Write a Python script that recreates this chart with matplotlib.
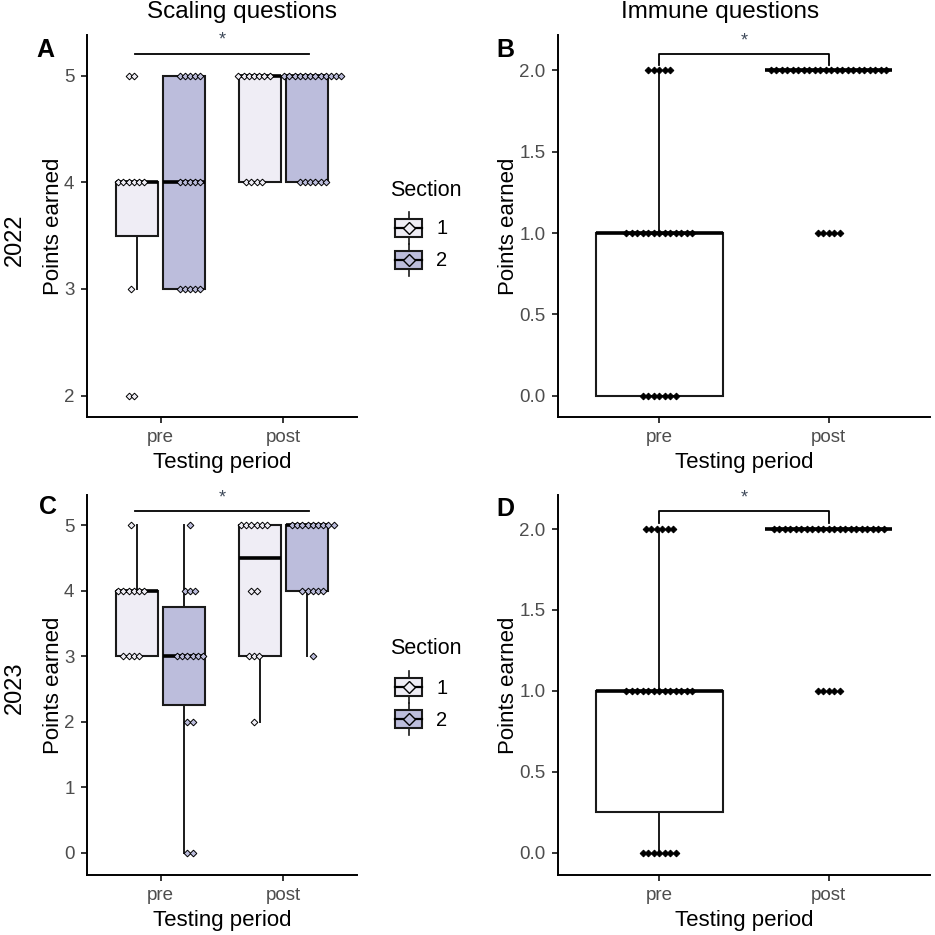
"""Scaling / immune question scores, 2022 vs 2023, boxes with dot strips"""
import numpy as np
import matplotlib
matplotlib.use("Agg")
import matplotlib.pyplot as plt
from matplotlib.patches import Rectangle

plt.rcParams['font.family'] = ['Liberation Sans', 'DejaVu Sans']

PERIODS = ["pre", "post"]
SECTIONS = ["1", "2"]
SECTION_FILL = ["#EFEDF5", "#BCBDDC"]

# score -> number of students
A_PRE_S1 = {2: 2, 3: 1, 4: 6, 5: 2}
A_PRE_S2 = {3: 5, 4: 5, 5: 5}
A_POST_S1 = {4: 4, 5: 7}
A_POST_S2 = {4: 6, 5: 12}
B_PRE = {0: 7, 1: 13, 2: 5}
B_POST = {1: 5, 2: 22}
C_PRE_S1 = {3: 4, 4: 6, 5: 1}
C_PRE_S2 = {0: 2, 2: 2, 3: 6, 4: 3, 5: 1}
C_POST_S1 = {2: 1, 3: 3, 4: 2, 5: 6}
C_POST_S2 = {3: 1, 4: 5, 5: 9}
D_PRE = {0: 7, 1: 13, 2: 6}
D_POST = {1: 5, 2: 21}

FIG_PX = 935
TICK_GRAY = "#4D4D4D"


def expand(counts):
    vals = []
    for score, n in counts.items():
        vals += [score] * n
    return np.array(vals, dtype=float)


def px_axes(left, top, right, bottom):
    return [left / FIG_PX, 1 - bottom / FIG_PX, (right - left) / FIG_PX, (bottom - top) / FIG_PX]


def style_axes(ax, ylim, yticks, ylabels):
    ax.set_xlim(0.4, 2.6)
    ax.set_ylim(*ylim)
    ax.set_xticks([1, 2])
    ax.set_xticklabels(PERIODS)
    ax.set_yticks(yticks)
    ax.set_yticklabels(ylabels)
    for side in ["top", "right"]:
        ax.spines[side].set_visible(False)
    for side in ["left", "bottom"]:
        ax.spines[side].set_linewidth(1.4)
    ax.tick_params(axis="both", length=4, width=1.1, colors="black",
                   labelcolor=TICK_GRAY, labelsize=13.5, pad=5)
    ax.set_xlabel("Testing period", fontsize=16, labelpad=4)
    ax.set_ylabel("Points earned", fontsize=16, labelpad=0)


def draw_box(ax, vals, x, width, fill):
    bp = ax.boxplot([vals], positions=[x], widths=width, whis=1.5,
                    patch_artist=True, showfliers=False, showcaps=False,
                    medianprops=dict(color="black", linewidth=2.6),
                    whiskerprops=dict(color="#1A1A1A", linewidth=1.4),
                    boxprops=dict(edgecolor="#1A1A1A", linewidth=1.5))
    bp["boxes"][0].set_facecolor(fill)


def draw_dots(ax, counts, x, step, fill, size):
    for score, n in counts.items():
        offs = (np.arange(n) - (n - 1) / 2) * step
        ax.plot(x + offs, np.full(n, score), linestyle="none", marker="D",
                markersize=size, markerfacecolor=fill, markeredgecolor="black",
                markeredgewidth=0.7, zorder=5)


def unit_step(ax_px_width, px):
    return px * 2.2 / ax_px_width


def scaling_panel(ax, ax_w, groups, bar_y, star_y):
    step = unit_step(ax_w, 5.2)
    for i, period in enumerate(PERIODS):
        for j, sec in enumerate(SECTIONS):
            counts = groups[(period, sec)]
            xb = i + 1 + (-0.19 if j == 0 else 0.19)
            xd = i + 1 + (-0.24 if j == 0 else 0.24)
            draw_box(ax, expand(counts), xb, 0.34, SECTION_FILL[j])
            draw_dots(ax, counts, xd, step, SECTION_FILL[j], 3.4)
    ax.plot([0.79, 2.21], [bar_y, bar_y], color="black", linewidth=1.3)
    ax.text(1.5, star_y, "*", ha="center", va="center", fontsize=13, color="#3F4A5A")


def immune_panel(ax, ax_w, pre, post, bar_y, tip_y, star_y):
    step = unit_step(ax_w, 5.5)
    for i, counts in enumerate([pre, post]):
        draw_box(ax, expand(counts), i + 1, 0.75, "white")
        draw_dots(ax, counts, i + 1, step, "black", 3.4)
    ax.plot([1, 1, 2, 2], [tip_y, bar_y, bar_y, tip_y], color="black", linewidth=1.3)
    ax.text(1.5, star_y, "*", ha="center", va="center", fontsize=13, color="#3F4A5A")


def legend_keys(fig, top):
    lax = fig.add_axes(px_axes(385, top, 480, top + 100))
    lax.set_xlim(385, 480)
    lax.set_ylim(top + 100, top)
    lax.axis("off")
    lax.text(390, top + 13, "Section", fontsize=15.5, va="center", ha="left")
    for k, fill in enumerate(SECTION_FILL):
        cy = top + 51 + 32 * k
        lax.add_patch(Rectangle((395, cy - 9), 27, 18, facecolor=fill,
                                edgecolor="#1A1A1A", linewidth=1.5))
        lax.plot([408.5, 408.5], [cy - 16, cy - 9], color="#1A1A1A", linewidth=1.2)
        lax.plot([408.5, 408.5], [cy + 9, cy + 16], color="#1A1A1A", linewidth=1.2)
        lax.plot([395, 422], [cy, cy], color="black", linewidth=1.6)
        lax.plot([408.5], [cy], marker="D", markersize=6, markerfacecolor=fill,
                 markeredgecolor="black", markeredgewidth=1.0)
        lax.text(436, cy + 1, SECTIONS[k], fontsize=14.5, va="center", ha="left")


fig = plt.figure(figsize=(9.35, 9.35), dpi=100)

ax_a = fig.add_axes(px_axes(87, 35, 357, 417))
ax_b = fig.add_axes(px_axes(558, 35, 930, 417))
ax_c = fig.add_axes(px_axes(87, 495, 357, 875))
ax_d = fig.add_axes(px_axes(558, 495, 930, 875))

scaling_panel(ax_a, 270, {("pre", "1"): A_PRE_S1, ("pre", "2"): A_PRE_S2,
                          ("post", "1"): A_POST_S1, ("post", "2"): A_POST_S2},
              5.205, 5.33)
style_axes(ax_a, (1.80, 5.38), [2, 3, 4, 5], ["2", "3", "4", "5"])

immune_panel(ax_b, 372, B_PRE, B_POST, 2.098, 2.03, 2.18)
style_axes(ax_b, (-0.129, 2.215), [0, 0.5, 1, 1.5, 2], ["0.0", "0.5", "1.0", "1.5", "2.0"])

scaling_panel(ax_c, 270, {("pre", "1"): C_PRE_S1, ("pre", "2"): C_PRE_S2,
                          ("post", "1"): C_POST_S1, ("post", "2"): C_POST_S2},
              5.21, 5.42)
style_axes(ax_c, (-0.34, 5.46), [0, 1, 2, 3, 4, 5], ["0", "1", "2", "3", "4", "5"])

immune_panel(ax_d, 372, D_PRE, D_POST, 2.11, 2.04, 2.19)
style_axes(ax_d, (-0.137, 2.21), [0, 0.5, 1, 1.5, 2], ["0.0", "0.5", "1.0", "1.5", "2.0"])

legend_keys(fig, 177)
legend_keys(fig, 636)

# column titles, row labels and panel tags
fig.text(242 / FIG_PX, 1 - 12 / FIG_PX, "Scaling questions", fontsize=17.5, ha="center", va="center")
fig.text(720 / FIG_PX, 1 - 12 / FIG_PX, "Immune questions", fontsize=17.5, ha="center", va="center")
fig.text(15 / FIG_PX, 1 - 240 / FIG_PX, "2022", fontsize=17, rotation=90, ha="center", va="center")
fig.text(15 / FIG_PX, 1 - 688 / FIG_PX, "2023", fontsize=17, rotation=90, ha="center", va="center")
for tag, (tx, ty) in zip("ABCD", [(45, 50), (505, 50), (48, 507), (505, 509)]):
    fig.text(tx / FIG_PX, 1 - ty / FIG_PX, tag, fontsize=18, fontweight="bold",
             ha="center", va="center")

fig.savefig("out.png", dpi=100)
